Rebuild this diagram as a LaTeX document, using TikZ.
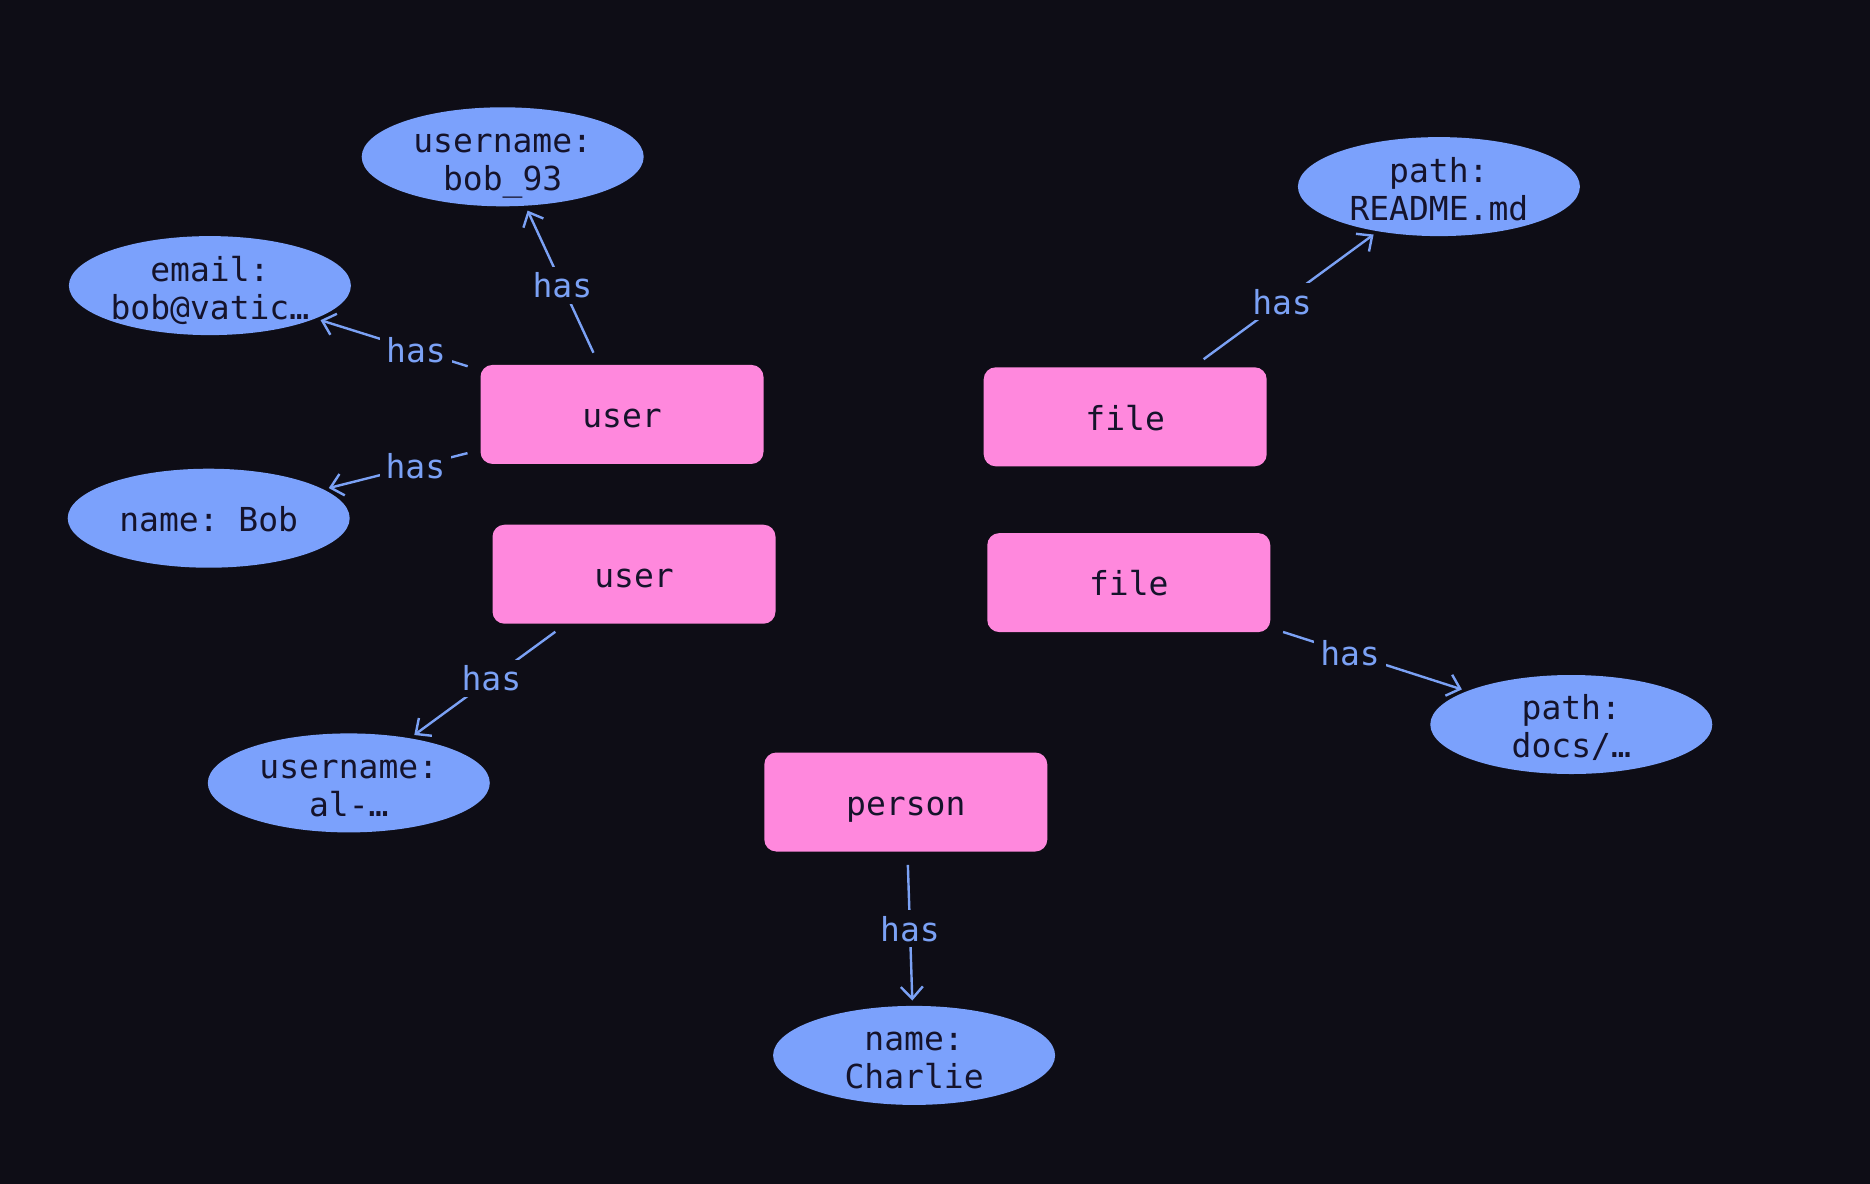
\documentclass[tikz,border=0pt]{standalone}
\usepackage{fontspec}
\setmonofont{DejaVu Sans Mono}
\usetikzlibrary{arrows.meta,shapes.geometric}
\definecolor{bg}{HTML}{0E0D16}
\definecolor{boxpink}{HTML}{FF88DD}
\definecolor{ellblue}{HTML}{7BA1FC}
\definecolor{edgeblue}{HTML}{7BA1F5}
\definecolor{ink}{HTML}{15132B}
\tikzset{
  entity/.style={rectangle, rounded corners=6pt, fill=boxpink, draw=none,
    minimum width=141.5pt, minimum height=49.5pt, inner sep=0pt,
    text height=13.2pt, text depth=0pt,
    text=ink, font=\ttfamily\fontsize{16.5pt}{19pt}\selectfont, align=center},
  attr/.style={ellipse, fill=ellblue, draw=none,
    minimum width=141pt, minimum height=49.5pt, inner sep=0pt,
    text height=13.2pt, text depth=0pt,
    text=ink, font=\ttfamily\fontsize{16.5pt}{19pt}\selectfont, align=center},
  twoline/.style={text height=33.4pt, text depth=0pt},
  rel/.style={draw=edgeblue, line width=1.2pt, -{Straight Barb[length=6pt,width=11pt,line width=1.2pt]},
    shorten <=6.5pt, shorten >=2.5pt},
  lbl/.style={fill=bg, text=edgeblue, inner sep=3pt, font=\ttfamily\fontsize{16.5pt}{19pt}\selectfont}
}
\begin{document}
\begin{tikzpicture}[x=0.5pt,y=-0.5pt]
\fill[bg] (0,0) rectangle (1870,1184);
\useasboundingbox (0,0) rectangle (1870,1184);
% entities
\node[entity] (u1) at (622,414.4) {user};
\node[entity] (u2) at (634,574.2) {user};
\node[entity] (p) at (905.8,802) {person};
\node[entity] (f1) at (1125.2,416.8) {file};
\node[entity] (f2) at (1128.8,582.6) {file};
% attributes
\node[attr,twoline] (ubob) at (502.7,156.8) {username:\\bob\_93};
\node[attr,twoline] (email) at (209.9,285.6) {email:\\bob@vatic…};
\node[attr] (nbob) at (208.7,518.2) {name: Bob};
\node[attr,twoline] (ual) at (348.8,782.9) {username:\\al-…};
\node[attr,twoline] (nch) at (914.1,1055.4) {name:\\Charlie};
\node[attr,twoline] (readme) at (1438.9,186.6) {path:\\README.md};
\node[attr,twoline] (docs) at (1571.3,724.5) {path:\\docs/…};
% edges
\draw[rel] (u1) -- (ubob);
\draw[rel] (u1) -- (email);
\draw[rel] (u1) -- (nbob);
\draw[rel] (u2) -- (ual);
\draw[rel] (p) -- (nch);
\draw[rel] (f1) -- (readme);
\draw[rel] (f2) -- (docs);
% edge labels at the midpoint between node centres
\path (u1.center) -- node[lbl] (l1) {has} (ubob.center);
\path (u1.center) -- node[lbl] (l2) {has} (email.center);
\path (u1.center) -- node[lbl] (l3) {has} (nbob.center);
\path (u2.center) -- node[lbl] (l4) {has} (ual.center);
\path (p.center) -- node[lbl] (l5) {has} (nch.center);
\path (f1.center) -- node[lbl] (l6) {has} (readme.center);
\path (f2.center) -- node[lbl] (l7) {has} (docs.center);
\end{tikzpicture}
\end{document}
